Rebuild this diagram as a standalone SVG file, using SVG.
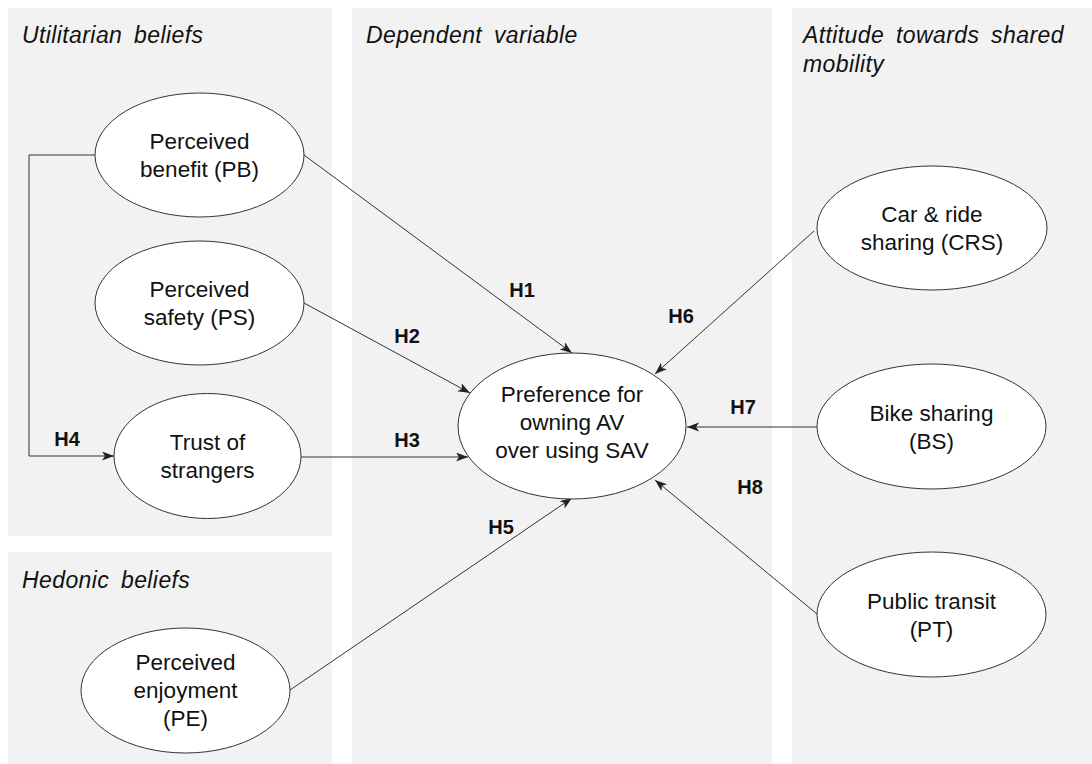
<svg xmlns="http://www.w3.org/2000/svg" width="1092" height="764" viewBox="0 0 1092 764">
<defs>
<style>
.panel{fill:#f2f2f2;stroke:none}
.node{fill:#ffffff;stroke:#333333;stroke-width:1}
.ntxt{font-family:"Liberation Sans",Arial,sans-serif;font-size:22.5px;fill:#111;text-anchor:middle}
.ptxt{font-family:"Liberation Sans",Arial,sans-serif;font-size:23px;font-style:italic;fill:#111;letter-spacing:0.4px;word-spacing:5px}
.edge{fill:none;stroke:#333333;stroke-width:1}
.lbl{font-family:"Liberation Sans",Arial,sans-serif;font-size:20px;font-weight:bold;fill:#111;text-anchor:middle}
</style>
<marker id="arr" markerUnits="userSpaceOnUse" markerWidth="13" markerHeight="10" refX="12" refY="4.5" orient="auto">
<path d="M0,0 L12,4.5 L0,9 L3,4.5 Z" fill="#222"/>
</marker>
</defs>
<g id="panels">
<rect class="panel" x="8" y="8" width="324" height="528"/>
<rect class="panel" x="8" y="552" width="324" height="212"/>
<rect class="panel" x="352" y="8" width="420" height="756"/>
<rect class="panel" x="792" y="8" width="300" height="756"/>
<text class="ptxt" x="22" y="43">Utilitarian beliefs</text>
<text class="ptxt" x="22" y="588">Hedonic beliefs</text>
<text class="ptxt" x="366" y="43">Dependent variable</text>
<text class="ptxt" x="803" y="43">Attitude towards shared</text>
<text class="ptxt" x="803" y="72">mobility</text>
</g>
<g id="connectors">
<polyline class="edge" points="95,155 29,155 29,456 114,456" marker-end="url(#arr)"/>
<line class="edge" x1="304" y1="155" x2="572" y2="353" marker-end="url(#arr)"/>
<line class="edge" x1="304" y1="303" x2="470" y2="393" marker-end="url(#arr)"/>
<line class="edge" x1="301" y1="457" x2="468" y2="457" marker-end="url(#arr)"/>
<line class="edge" x1="290" y1="690" x2="572" y2="498" marker-end="url(#arr)"/>
<line class="edge" x1="814" y1="231" x2="655" y2="374" marker-end="url(#arr)"/>
<line class="edge" x1="817" y1="427" x2="687" y2="427" marker-end="url(#arr)"/>
<line class="edge" x1="817" y1="614" x2="655" y2="480" marker-end="url(#arr)"/>
<text class="lbl" x="522" y="297">H1</text>
<text class="lbl" x="407" y="343">H2</text>
<text class="lbl" x="407" y="447">H3</text>
<text class="lbl" x="67" y="446">H4</text>
<text class="lbl" x="501" y="534">H5</text>
<text class="lbl" x="681" y="323">H6</text>
<text class="lbl" x="743" y="414">H7</text>
<text class="lbl" x="750" y="494">H8</text>
</g>
<g id="node-pb">
<ellipse class="node" cx="199.5" cy="155" rx="104.5" ry="62"/>
<text class="ntxt" x="199.5" y="149">Perceived</text>
<text class="ntxt" x="199.5" y="177">benefit (PB)</text>
</g>
<g id="node-ps">
<ellipse class="node" cx="199.5" cy="303" rx="104.5" ry="62"/>
<text class="ntxt" x="199.5" y="297">Perceived</text>
<text class="ntxt" x="199.5" y="325">safety (PS)</text>
</g>
<g id="node-ts">
<ellipse class="node" cx="207.5" cy="456" rx="93.5" ry="62.5"/>
<text class="ntxt" x="207.5" y="450">Trust of</text>
<text class="ntxt" x="207.5" y="478">strangers</text>
</g>
<g id="node-pe">
<ellipse class="node" cx="185.5" cy="690.5" rx="104.5" ry="62.5"/>
<text class="ntxt" x="185.5" y="670">Perceived</text>
<text class="ntxt" x="185.5" y="698">enjoyment</text>
<text class="ntxt" x="185.5" y="726">(PE)</text>
</g>
<g id="node-pref">
<ellipse class="node" cx="572" cy="426" rx="114" ry="73"/>
<text class="ntxt" x="572" y="402">Preference for</text>
<text class="ntxt" x="572" y="430">owning AV</text>
<text class="ntxt" x="572" y="458">over using SAV</text>
</g>
<g id="node-crs">
<ellipse class="node" cx="932" cy="228" rx="115" ry="62"/>
<text class="ntxt" x="932" y="222">Car &amp; ride</text>
<text class="ntxt" x="932" y="250">sharing (CRS)</text>
</g>
<g id="node-bs">
<ellipse class="node" cx="931.5" cy="426.5" rx="114.5" ry="62.5"/>
<text class="ntxt" x="931.5" y="421">Bike sharing</text>
<text class="ntxt" x="931.5" y="449">(BS)</text>
</g>
<g id="node-pt">
<ellipse class="node" cx="931.5" cy="614.5" rx="114.5" ry="62.5"/>
<text class="ntxt" x="931.5" y="609">Public transit</text>
<text class="ntxt" x="931.5" y="637">(PT)</text>
</g>
</svg>
